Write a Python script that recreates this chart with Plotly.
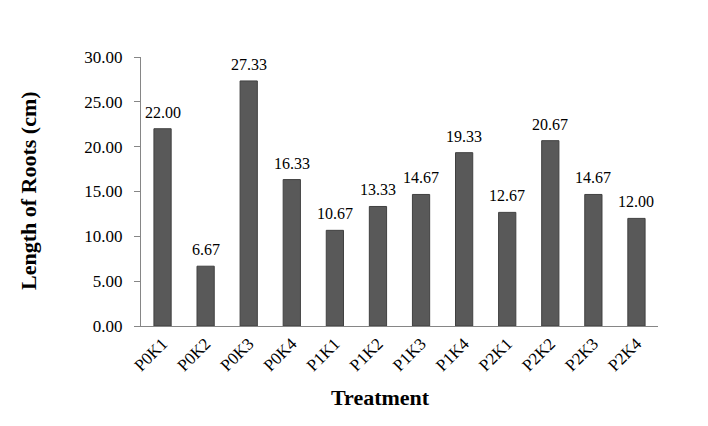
import plotly.graph_objects as go

treatments = ["P0K1", "P0K2", "P0K3", "P0K4", "P1K1", "P1K2", "P1K3", "P1K4",
              "P2K1", "P2K2", "P2K3", "P2K4"]
root_length = [22.00, 6.67, 27.33, 16.33, 10.67, 13.33, 14.67, 19.33,
               12.67, 20.67, 14.67, 12.00]
y_ticks = [0, 5, 10, 15, 20, 25, 30]
y_tick_labels = ["0.00", "5.00", "10.00", "15.00", "20.00", "25.00", "30.00"]

font_family = "Liberation Serif, Times New Roman, serif"

off = 8
L, R, T, B = 141 - off, 50 + off, 57 - off, 100 + off
W, H = 708, 426

fig = go.Figure(go.Bar(
    x=treatments,
    y=root_length,
    width=0.4,
    marker=dict(color="#595959", line=dict(color="#404040", width=1)),
    cliponaxis=False,
))

pw = W - L - R
ph = H - T - B

annotations = [
    dict(x=c, y=v, xref="x", yref="y", text=f"{v:.2f}", showarrow=False,
         xanchor="center", yanchor="bottom", yshift=6,
         font=dict(family=font_family, size=16, color="#000000"))
    for c, v in zip(treatments, root_length)
]
annotations += [
    dict(text="<b>Treatment</b>", showarrow=False,
         xref="paper", yref="paper", xanchor="center", yanchor="middle",
         x=(380 - off - L) / pw, y=(H - B - (397 - off)) / ph,
         font=dict(family=font_family, size=22)),
    dict(text="<b>Length of Roots (cm)</b>", showarrow=False, textangle=-90,
         xref="paper", yref="paper", xanchor="center", yanchor="middle",
         x=(28 - off - L) / pw, y=(H - B - (191 - off)) / ph,
         font=dict(family=font_family, size=22)),
]

fig.update_layout(
    width=W, height=H,
    margin=dict(l=L, r=R, t=T, b=B, autoexpand=False),
    paper_bgcolor="white", plot_bgcolor="white",
    font=dict(family=font_family, size=16, color="#000000"),
    showlegend=False,
    xaxis=dict(
        showline=True, linecolor="#868686", linewidth=1,
        ticks="", tickangle=-45, showgrid=False,
        tickfont=dict(family=font_family, size=17, color="#000000"),
    ),
    yaxis=dict(
        range=[0, 30], tickvals=y_ticks, ticktext=y_tick_labels,
        showline=True, linecolor="#868686", linewidth=1,
        ticks="outside", ticklen=6, tickcolor="#868686",
        ticklabelstandoff=8,
        showgrid=False, zeroline=False,
        tickfont=dict(family=font_family, size=17, color="#000000"),
    ),
    annotations=annotations,
)

fig.write_html("out.html")
